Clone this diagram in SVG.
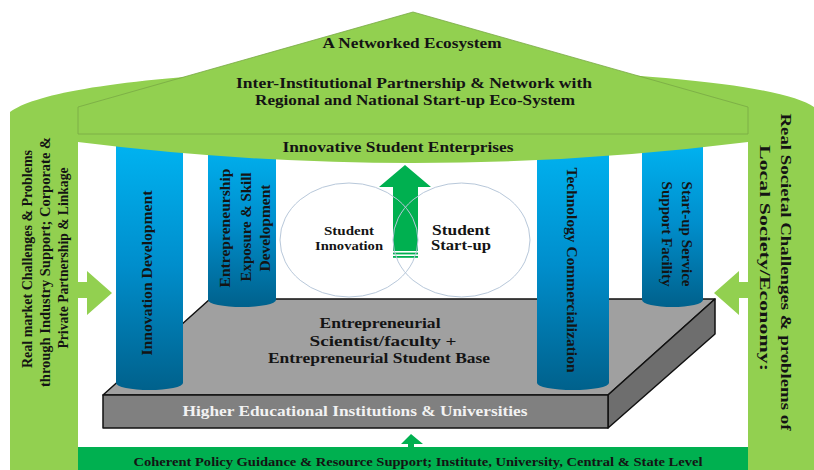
<svg xmlns="http://www.w3.org/2000/svg" width="814" height="470" viewBox="0 0 814 470">
<defs>
<linearGradient id="colGrad" x1="0" y1="0" x2="0" y2="1">
<stop offset="0" stop-color="#00B4F2"/>
<stop offset="0.5" stop-color="#008ECC"/>
<stop offset="1" stop-color="#00618C"/>
</linearGradient>
<style>
text{font-family:"Liberation Serif","Times New Roman",serif;font-weight:bold;fill:#141414;}
.col{fill:url(#colGrad);}
.lg{fill:#92D050;}
.dg{fill:#00B050;}
.venn{fill:none;stroke:#B8C8DA;stroke-width:1;}
.slab{stroke:#111;stroke-width:1.5;stroke-linejoin:round;}
</style>
</defs>
<rect width="814" height="470" fill="#FFFFFF"/>

<g id="platform">
<polygon class="slab" points="210,299 715,299 608,395 103,395" fill="#A0A0A0"/>
<polygon class="slab" points="608,395 715,299 715,334 608,428" fill="#6E6E6E"/>
<rect class="slab" x="103" y="395" width="505" height="33" fill="#808080"/>
<text x="380" y="328" font-size="15" text-anchor="middle" textLength="121" lengthAdjust="spacingAndGlyphs">Entrepreneurial</text>
<text x="383" y="346" font-size="15" text-anchor="middle" textLength="147" lengthAdjust="spacingAndGlyphs">Scientist/faculty +</text>
<text x="379" y="363" font-size="15" text-anchor="middle" textLength="222" lengthAdjust="spacingAndGlyphs">Entrepreneurial Student Base</text>
<text x="355" y="416" font-size="15" text-anchor="middle" textLength="345" lengthAdjust="spacingAndGlyphs" style="fill:#F2F2F2">Higher Educational Institutions &amp; Universities</text>
</g>

<g id="col-innovation">
<path class="col" d="M116,140 L116,383 A33.5,7 0 0 0 183,383 L183,140 Z"/>
<text transform="translate(152,273) rotate(-90)" font-size="15" text-anchor="middle" textLength="165" lengthAdjust="spacingAndGlyphs">Innovation Development</text>
</g>

<g id="col-exposure">
<path class="col" d="M208,140 L208,300 A34,7 0 0 0 276,300 L276,140 Z"/>
<text transform="translate(230,228) rotate(-90)" font-size="14" text-anchor="middle" textLength="119" lengthAdjust="spacingAndGlyphs">Entrepreneurship</text>
<text transform="translate(251,227) rotate(-90)" font-size="14" text-anchor="middle" textLength="109" lengthAdjust="spacingAndGlyphs">Exposure &amp; Skill</text>
<text transform="translate(270,228) rotate(-90)" font-size="14" text-anchor="middle" textLength="87" lengthAdjust="spacingAndGlyphs">Development</text>
</g>

<g id="col-technology">
<path class="col" d="M537,140 L537,383 A36,7 0 0 0 609,383 L609,140 Z"/>
<text transform="translate(567,270) rotate(90)" font-size="15" text-anchor="middle" textLength="205" lengthAdjust="spacingAndGlyphs">Technology Commercialization</text>
</g>

<g id="col-startup">
<path class="col" d="M642,140 L642,300 A30.5,7 0 0 0 703,300 L703,140 Z"/>
<text transform="translate(682,234) rotate(90)" font-size="14" text-anchor="middle" textLength="105" lengthAdjust="spacingAndGlyphs">Start-up Service</text>
<text transform="translate(662,234) rotate(90)" font-size="14" text-anchor="middle" textLength="105" lengthAdjust="spacingAndGlyphs">Support Facility</text>
</g>

<g id="frame">
<path class="lg" d="M10,470 L10,112 C40,90 150,72 413,66 C676,72 786,88 814,107 L814,470 L748,470 L748,142 Q413,184 78,142 L78,470 Z"/>
<path class="lg" d="M78,134 L78,107 L413,12 L748,107 L748,134 Z" stroke="#79A845" stroke-width="0.8"/>
<rect class="dg" x="78" y="447" width="670" height="23"/>
</g>

<g id="roof">
<text x="412" y="48" font-size="15" text-anchor="middle" textLength="179" lengthAdjust="spacingAndGlyphs">A Networked Ecosystem</text>
<text x="414" y="88" font-size="15" text-anchor="middle" textLength="356" lengthAdjust="spacingAndGlyphs">Inter-Institutional Partnership &amp; Network  with</text>
<text x="415" y="105" font-size="15" text-anchor="middle" textLength="320" lengthAdjust="spacingAndGlyphs">Regional and National Start-up Eco-System</text>
</g>

<g id="enterprises">
<text x="398" y="152" font-size="15" text-anchor="middle" textLength="231" lengthAdjust="spacingAndGlyphs">Innovative Student Enterprises</text>
</g>

<g id="left-wall">
<text transform="translate(32,259) rotate(-90)" font-size="15" text-anchor="middle" textLength="218" lengthAdjust="spacingAndGlyphs">Real market Challenges &amp; Problems</text>
<text transform="translate(50,262) rotate(-90)" font-size="15" text-anchor="middle" textLength="250" lengthAdjust="spacingAndGlyphs">through Industry Support; Corporate &amp;</text>
<text transform="translate(68,258) rotate(-90)" font-size="15" text-anchor="middle" textLength="181" lengthAdjust="spacingAndGlyphs">Private Partnership &amp; Linkage</text>
</g>

<g id="right-wall">
<text transform="translate(781,272) rotate(90)" font-size="15" text-anchor="middle" textLength="317" lengthAdjust="spacingAndGlyphs">Real Societal Challenges &amp; problems of</text>
<text transform="translate(760,258) rotate(90)" font-size="15" text-anchor="middle" textLength="226" lengthAdjust="spacingAndGlyphs">Local Society/Economy:</text>
</g>

<g id="policy">
<text x="418" y="466" font-size="13" text-anchor="middle" textLength="569" lengthAdjust="spacingAndGlyphs">Coherent Policy Guidance &amp; Resource Support;  Institute, University, Central &amp; State Level</text>
</g>

<g id="connectors">
<polygon class="lg" points="78,282 87,282 87,271 112,293 87,315 87,298 78,298"/>
<polygon class="lg" points="748,282 739,282 739,271 714,293 739,315 739,298 748,298"/>
<polygon class="dg" points="408,448 408,444 401,444 411,434 423,444 414,444 414,448"/>
<polygon class="dg" points="405,165 431,187 418,187 418,251 393,251 393,187 379,187"/>
<rect class="dg" x="393" y="252.6" width="25" height="1.8"/>
<rect class="dg" x="393" y="256" width="25" height="1.8"/>
</g>

<g id="venn-innovation">
<ellipse class="venn" cx="349" cy="240" rx="69" ry="57"/>
<text x="349" y="235" font-size="12" text-anchor="middle" textLength="50" lengthAdjust="spacingAndGlyphs">Student</text>
<text x="349" y="250" font-size="12" text-anchor="middle" textLength="68" lengthAdjust="spacingAndGlyphs">Innovation</text>
</g>

<g id="venn-startup">
<ellipse class="venn" cx="461.5" cy="240" rx="68.5" ry="57"/>
<text x="461" y="235" font-size="14" text-anchor="middle" textLength="58" lengthAdjust="spacingAndGlyphs">Student</text>
<text x="461" y="250" font-size="14" text-anchor="middle" textLength="60" lengthAdjust="spacingAndGlyphs">Start-up</text>
</g>
</svg>
